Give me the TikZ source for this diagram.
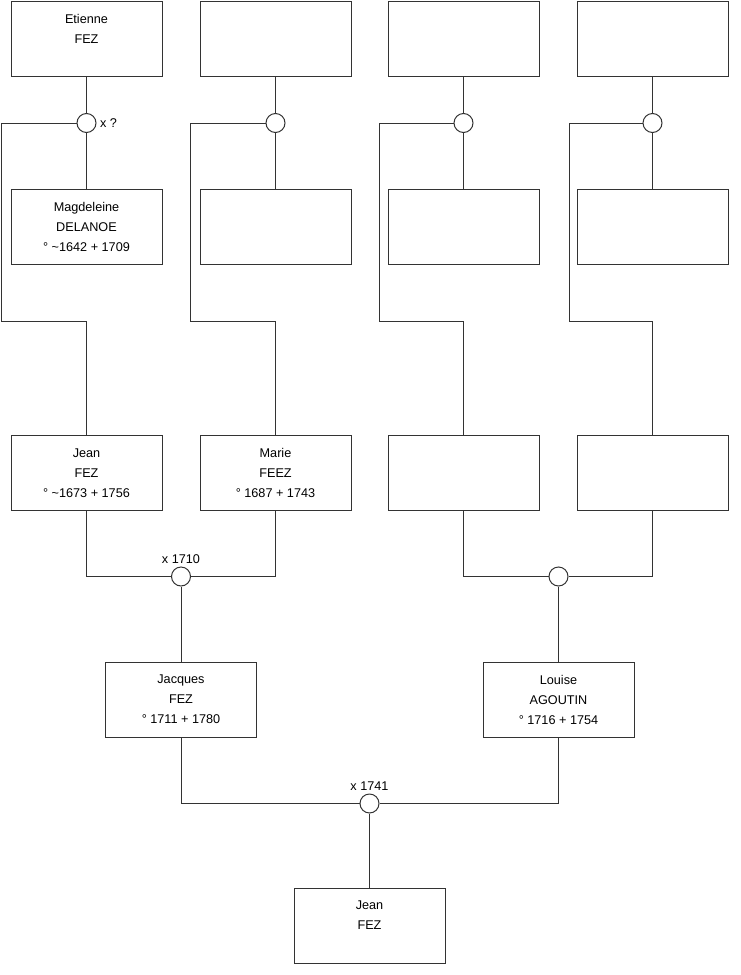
\documentclass[tikz,border=0pt]{standalone}
\usepackage{fontspec}
\setmainfont{Liberation Sans}
\usepackage{xcolor}
\usepackage{tikz}
\usetikzlibrary{positioning}
\definecolor{treeline}{HTML}{333333}
\tikzset{
  person/.style={draw=treeline,fill=white,line width=0.75pt,minimum width=113.25pt,minimum height=56.25pt,inner sep=0pt,align=center,font=\fontsize{9.5}{15}\selectfont},
  union/.style={circle,draw=treeline,fill=white,line width=0.75pt,minimum size=14.25pt,inner sep=0pt},
  link/.style={draw=treeline,line width=0.75pt},
  wed/.style={font=\fontsize{9.5}{12}\selectfont,inner sep=1pt},
}

\begin{document}
\begin{tikzpicture}[x=0.75pt,y=-0.75pt]
  \useasboundingbox (0,0) rectangle (740,975);
  % great-grandparents
  \node[person] (etienne) at (86.5,38.5) {Etienne\\FEZ\\\mbox{}};
  \node[person] (anc2) at (275.5,38.5) {};
  \node[person] (anc3) at (463.5,38.5) {};
  \node[person] (anc4) at (652.5,38.5) {};
  \node[person] (magdeleine) at (86.5,227) {Magdeleine\\DELANOE\\° \textasciitilde1642 + 1709};
  \node[person] (anc6) at (275.5,227) {};
  \node[person] (anc7) at (463.5,227) {};
  \node[person] (anc8) at (652.5,227) {};
  \node[union] (u1) at (86.5,123) {};
  \node[union] (u2) at (275.5,123) {};
  \node[union] (u3) at (463.5,123) {};
  \node[union] (u4) at (652.5,123) {};
  \node[wed,right=1.5pt of u1] (w1) {x ?};
  % grandparents
  \node[person] (jeanA) at (86.5,473) {Jean\\FEZ\\° \textasciitilde1673 + 1756};
  \node[person] (marie) at (275.5,473) {Marie\\FEEZ\\° 1687 + 1743};
  \node[person] (anc9) at (463.5,473) {};
  \node[person] (anc10) at (652.5,473) {};
  \coordinate (k1) at (1,321);
  \coordinate (k2) at (190,321);
  \coordinate (k3) at (379.5,321);
  \coordinate (k4) at (569,321);
  \draw[link] (etienne) -- (u1) -- (magdeleine);
  \draw[link] (anc2) -- (u2) -- (anc6);
  \draw[link] (anc3) -- (u3) -- (anc7);
  \draw[link] (anc4) -- (u4) -- (anc8);
  \draw[link] (u1) -| (k1) -| (jeanA);
  \draw[link] (u2) -| (k2) -| (marie);
  \draw[link] (u3) -| (k3) -| (anc9);
  \draw[link] (u4) -| (k4) -| (anc10);
  % parents
  \node[union] (u12) at (181,576.5) {};
  \node[union] (u34) at (558.5,576.5) {};
  \node[wed,above=1pt of u12] (w12) {x 1710};
  \node[person] (jacques) at (181,699.5) {Jacques\\FEZ\\° 1711 + 1780};
  \node[person] (louise) at (558.5,699.5) {Louise\\AGOUTIN\\° 1716 + 1754};
  \draw[link] (jeanA) |- (u12);
  \draw[link] (marie) |- (u12);
  \draw[link] (u12) -- (jacques);
  \draw[link] (anc9) |- (u34);
  \draw[link] (anc10) |- (u34);
  \draw[link] (u34) -- (louise);
  % child
  \node[union] (uroot) at (369.5,803.5) {};
  \node[wed,above=1pt of uroot] (wroot) {x 1741};
  \node[person] (jean) at (369.5,925.5) {Jean\\FEZ\\\mbox{}};
  \draw[link] (jacques) |- (uroot);
  \draw[link] (louise) |- (uroot);
  \draw[link] (uroot) -- (jean);
\end{tikzpicture}
\end{document}
